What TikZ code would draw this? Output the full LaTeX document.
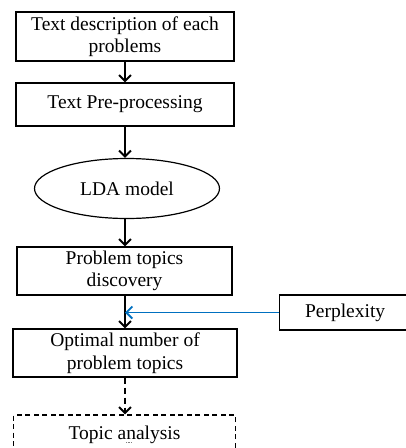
\documentclass[tikz,border=0pt]{standalone}
\usepackage{fontspec}
\setmainfont{Liberation Serif}
\usetikzlibrary{arrows.meta,shapes.geometric}
\begin{document}
\begin{tikzpicture}[x=1pt,y=-1pt,
  every node/.style={font=\fontsize{19.5}{22.5}\selectfont, align=center, inner sep=0pt},
  stepbox/.style={draw=black, line width=1.2pt, rectangle},
  flow/.style={draw=black, line width=1.9pt, -{Straight Barb[length=6pt,width=12pt,line width=1.9pt]}},
  dflow/.style={flow, dash pattern=on 6pt off 4pt},
  bflow/.style={draw={rgb,255:red,0;green,112;blue,192}, line width=1.9pt,
    -{Straight Barb[length=6pt,width=12pt,line width=1.9pt]}}
]
\useasboundingbox (0,0) rectangle (406,448);
\begin{scope}
\clip (0,0) rectangle (406,448);

\node[stepbox, minimum width=218pt, minimum height=49pt] (desc) at (125,36.5)
  {Text description of each\\problems};
\node[stepbox, minimum width=218pt, minimum height=43pt] (pre) at (125,104.5)
  {Text Pre-processing};
\node[draw=black, line width=1.2pt, ellipse, minimum width=185pt, minimum height=60pt] (lda) at (127,188.5)
  {LDA model};
\node[stepbox, minimum width=215pt, minimum height=48pt] (disc) at (124.5,271)
  {Problem topics\\discovery};
\node[stepbox, minimum width=131pt, minimum height=35pt, anchor=west] (perp) at (279,312.5)
  {Perplexity};
\node[stepbox, minimum width=224pt, minimum height=48pt] (opt) at (125,353)
  {Optimal number of\\problem topics};
\node[stepbox, dash pattern=on 5pt off 3.5pt, minimum width=222pt, minimum height=40pt] (ana) at (124.5,435)
  {Topic analysis};
\coordinate (merge) at (125,312.5);
% spell-check marker under the first letter of "analysis"
\draw[gray, line width=0.6pt, dash pattern=on 0.8pt off 0.8pt] (126,442.5) -- (131,442.5);

\draw[flow] (desc.south -| 125,0) -- (pre.north -| 125,0);
\draw[flow] (pre.south -| 125,0) -- (lda.north -| 125,0);
\draw[flow] (lda.south -| 125,0) -- (disc.north -| 125,0);
\draw[flow] (disc.south -| 125,0) -- (opt.north -| 125,0);
\draw[bflow] (perp.west) -- (merge);
\draw[dflow] (opt.south -| 125,0) -- (ana.north -| 125,0);
\end{scope}
\end{tikzpicture}
\end{document}
